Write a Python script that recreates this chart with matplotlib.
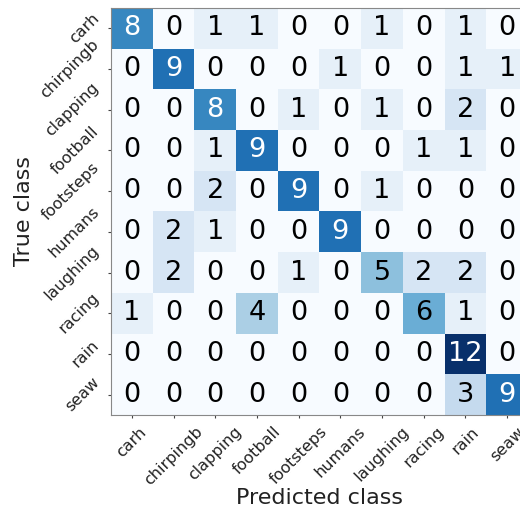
import numpy as np
import matplotlib
matplotlib.use("Agg")
import matplotlib.pyplot as plt

classes = ["carh", "chirpingb", "clapping", "football", "footsteps",
           "humans", "laughing", "racing", "rain", "seaw"]

# rows: true class, columns: predicted class
confusion = np.array([
    [8, 0, 1, 1, 0, 0, 1, 0, 1, 0],
    [0, 9, 0, 0, 0, 1, 0, 0, 1, 1],
    [0, 0, 8, 0, 1, 0, 1, 0, 2, 0],
    [0, 0, 1, 9, 0, 0, 0, 1, 1, 0],
    [0, 0, 2, 0, 9, 0, 1, 0, 0, 0],
    [0, 2, 1, 0, 0, 9, 0, 0, 0, 0],
    [0, 2, 0, 0, 1, 0, 5, 2, 2, 0],
    [1, 0, 0, 4, 0, 0, 0, 6, 1, 0],
    [0, 0, 0, 0, 0, 0, 0, 0, 12, 0],
    [0, 0, 0, 0, 0, 0, 0, 0, 3, 9],
])

W, H = 520, 509
fig = plt.figure(figsize=(W / 100, H / 100), dpi=100)
ax = fig.add_axes([111 / W, (H - 415) / H, 417 / W, 407 / H])

ax.imshow(confusion, cmap="Blues", vmin=0, vmax=confusion.max(), aspect="auto")

thresh = confusion.max() / 2.0
for i in range(confusion.shape[0]):
    for j in range(confusion.shape[1]):
        v = confusion[i, j]
        ax.text(j, i, f"{v}", ha="center", va="center", fontsize=19.5,
                color="white" if v > thresh else "black")

ax.set_xticks(range(len(classes)))
ax.set_yticks(range(len(classes)))
ax.set_xticklabels(classes, rotation=45, fontsize=11.5)
ax.set_yticklabels(classes, rotation=45, fontsize=11.5, va="center")
ax.tick_params(colors="#444444", labelcolor="#222222", length=2.5, pad=4)
for s in ax.spines.values():
    s.set_color("#888888")

ax.set_xlabel("Predicted class", fontsize=16, color="#222222")
ax.set_ylabel("True class", fontsize=16, color="#222222")
ax.xaxis.label.set_verticalalignment("center")
ax.yaxis.label.set_verticalalignment("center")
ax.xaxis.set_label_coords(0.5, (415 - 498) / 407)
ax.yaxis.set_label_coords((24 - 111) / 417, 0.5)

fig.savefig("out.png", dpi=100)
